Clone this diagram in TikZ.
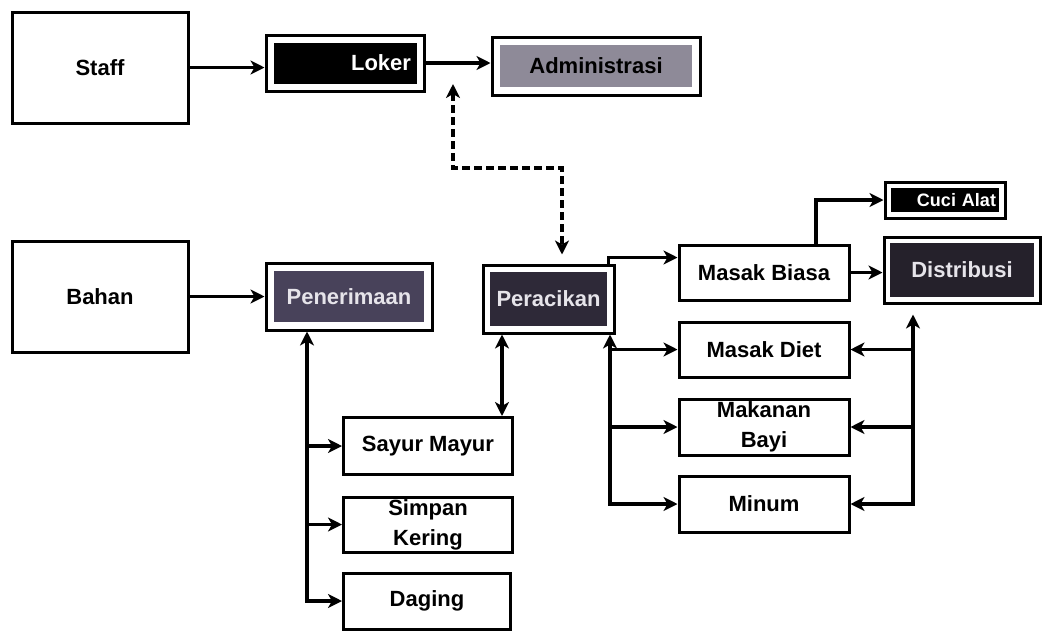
\documentclass[tikz,border=0pt]{standalone}
\usepackage{fontspec}
\setmainfont{Liberation Sans}
\usetikzlibrary{arrows.meta,calc}
\definecolor{admgray}{HTML}{8E8A98}
\definecolor{penergray}{HTML}{48425A}
\definecolor{peracgray}{HTML}{2E2938}
\definecolor{distgray}{HTML}{25212B}
\definecolor{halotext}{HTML}{E6E4EA}
\tikzset{
  box/.style={draw=black, line width=3pt, fill=white, inner sep=0pt,
    font=\fontsize{22}{30}\selectfont\bfseries, align=center},
  inbox/.style n args={2}{box, path picture={
    \fill[#1] ([xshift=#2pt,yshift=-#2pt]path picture bounding box.north west)
      rectangle ([xshift=-#2pt,yshift=#2pt]path picture bounding box.south east);}},
  tip/.tip={Stealth[length=14pt,width=14pt,inset=4pt]},
  arr/.style={line width=3.4pt, -tip},
  darr/.style={line width=3.4pt, tip-tip},
  dasharr/.style={line width=3.4pt, dash pattern=on 8pt off 4pt, tip-tip}
}
\begin{document}
\begin{tikzpicture}[x=1pt,y=-1pt]
\useasboundingbox (0,0) rectangle (1045,630);

% nodes
\node[box, minimum width=176pt, minimum height=111pt] (staff) at (100,67.5) {Staff};
\node[inbox={black}{7.5}, minimum width=158pt, minimum height=56pt, text width=132pt, align=right, text=white] (loker) at (345,63) {Loker};
\node[inbox={admgray}{8}, minimum width=208pt, minimum height=58pt] (admin) at (596,66) {Administrasi};

\node[box, minimum width=176pt, minimum height=111pt] (bahan) at (100,296.5) {Bahan};
\node[inbox={penergray}{8}, minimum width=166pt, minimum height=67pt, text=halotext] (pener) at (349,296.5) {Penerimaan};
\node[inbox={peracgray}{7}, minimum width=131pt, minimum height=68pt, text=halotext] (perac) at (548.5,299) {Peracikan};

\node[box, minimum width=170pt, minimum height=55pt] (masakb) at (764,272.5) {Masak Biasa};
\node[inbox={black}{6}, minimum width=120pt, minimum height=36pt, text width=102pt, align=right, text=white, font=\fontsize{18}{20}\selectfont\bfseries] (cuci) at (945,200) {Cuci Alat};
\node[inbox={distgray}{6}, minimum width=156pt, minimum height=66pt, text=halotext] (distr) at (962,270) {Distribusi};

\node[box, minimum width=170pt, minimum height=55pt] (diet) at (764,349.5) {Masak Diet};
\node[box, minimum width=170pt, minimum height=56pt] (bayi) at (764,427) {Makanan\\Bayi};
\node[box, minimum width=170pt, minimum height=56pt] (minum) at (764,504) {Minum};

\node[box, minimum width=169pt, minimum height=57pt] (sayur) at (428,446) {Sayur Mayur};
\node[box, minimum width=169pt, minimum height=55pt] (simpan) at (428,524.5) {Simpan\\Kering};
\node[box, minimum width=167pt, minimum height=56pt] (daging) at (427,601) {Daging};

% top row
\draw[arr] (staff.east) -- (staff.east -| loker.west);
\draw[arr] (loker.east) -- (loker.east -| admin.west);

% dashed link
\coordinate (dtop) at (453,84);
\draw[dasharr, shorten >=9pt] (dtop) -- ++(0,84) -| ([xshift=13.5pt]perac.north);

% bahan
\draw[arr] (bahan.east) -- (bahan.east -| pener.west);
\draw[darr] ([xshift=-42pt]pener.south) |- (daging.west);
\draw[arr] ([xshift=-42pt]pener.south |- sayur.west) -- (sayur.west);
\draw[arr] ([xshift=-42pt]pener.south |- simpan.west) -- (simpan.west);

% peracikan - sayur
\draw[darr] ([xshift=-46.5pt]perac.south) -- ([xshift=-46.5pt]perac.south |- sayur.north);

% peracikan - masak
\draw[arr] ([xshift=60pt]perac.north) |- ([yshift=15pt]masakb.west);
\draw[arr] ([xshift=52pt]masakb.north) |- (cuci.west);
\draw[arr] (masakb.east) -- (masakb.east -| distr.west);

\draw[darr] ([xshift=61.5pt]perac.south) |- (minum.west);
\draw[arr] ([xshift=61.5pt]perac.south |- diet.west) -- (diet.west);
\draw[arr] ([xshift=61.5pt]perac.south |- bayi.west) -- (bayi.west);

% to distribusi
\draw[darr] (minum.east) -| ([xshift=-49pt,yshift=-10pt]distr.south);
\draw[arr] ([xshift=-49pt]distr.south |- diet.east) -- (diet.east);
\draw[arr] ([xshift=-49pt]distr.south |- bayi.east) -- (bayi.east);
\end{tikzpicture}
\end{document}
